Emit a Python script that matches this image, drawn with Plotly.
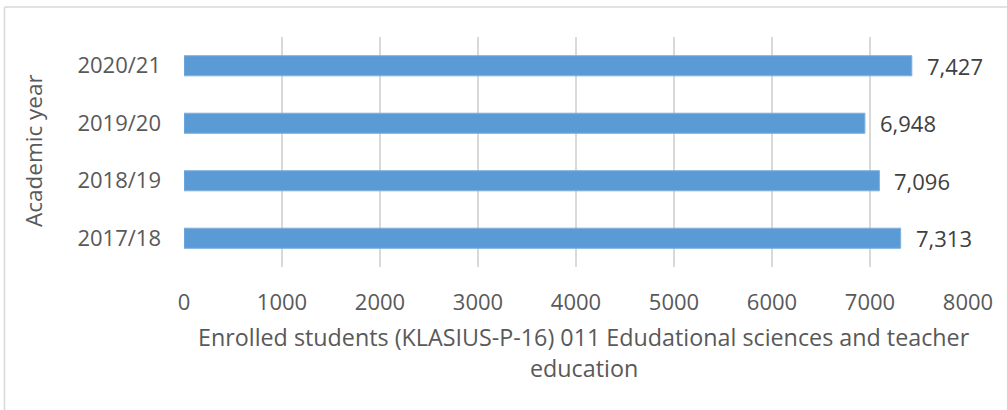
import plotly.graph_objects as go

# Enrolled students by academic year
years = ["2017/18", "2018/19", "2019/20", "2020/21"]
students = [7313, 7096, 6948, 7427]
x_ticks = [0, 1000, 2000, 3000, 4000, 5000, 6000, 7000, 8000]

x_title_lines = ["Enrolled students (KLASIUS-P-16) 011 Edudational sciences and teacher",
                 "education"]
y_title = "Academic year"

FONT = "Open Sans"
SIZE = 22
TEXT = "#595959"
LABEL = "#404040"
BAR = "#5B9BD5"
GRID = "#D9D9D9"

W, H = 1007, 410
L, R, T, B = 184, 39, 37, 143
pw, ph = W - L - R, H - T - B


def px_x(p):
    return (p - L) / pw


def px_y(p):
    return (H - B - p) / ph


fig = go.Figure(
    go.Bar(
        x=students,
        y=years,
        orientation="h",
        marker=dict(color=BAR, line=dict(color="#7FB0DE", width=1)),
        width=0.35,
        hoverinfo="skip",
    )
)

# value labels just right of each bar end
for yr, v in zip(years, students):
    fig.add_annotation(
        x=v, y=yr, xref="x", yref="y",
        text=f"{v:,}", showarrow=False,
        xanchor="left", yanchor="middle", xshift=13,
        font=dict(family=FONT, size=SIZE, color=LABEL),
    )

# axis titles
fig.add_annotation(
    x=px_x(584), y=px_y(337), xref="paper", yref="paper",
    text=x_title_lines[0], showarrow=False, xanchor="center", yanchor="middle",
    font=dict(family=FONT, size=23.3, color=TEXT),
)
fig.add_annotation(
    x=px_x(584), y=px_y(368), xref="paper", yref="paper",
    text=x_title_lines[1], showarrow=False, xanchor="center", yanchor="middle",
    font=dict(family=FONT, size=23.3, color=TEXT),
)
fig.add_annotation(
    x=px_x(33), y=px_y(151), xref="paper", yref="paper",
    text=y_title, showarrow=False, textangle=-90,
    xanchor="center", yanchor="middle",
    font=dict(family=FONT, size=22.5, color=TEXT),
)

# chart frame (top and left edges)
fig.add_shape(type="line", xref="paper", yref="paper",
              x0=px_x(4.5), x1=px_x(1010), y0=px_y(7), y1=px_y(7),
              line=dict(color=GRID, width=1.5))
fig.add_shape(type="line", xref="paper", yref="paper",
              x0=px_x(4.5), x1=px_x(4.5), y0=px_y(7), y1=px_y(415),
              line=dict(color=GRID, width=1.5))

fig.update_layout(
    width=W, height=H,
    margin=dict(l=L, r=R, t=T, b=B, pad=0),
    paper_bgcolor="white", plot_bgcolor="white",
    showlegend=False,
    font=dict(family=FONT, size=SIZE, color=TEXT),
    xaxis=dict(
        range=[0, 8000], tickvals=x_ticks, ticktext=[str(t) for t in x_ticks],
        showgrid=True, gridcolor=GRID, gridwidth=1.5,
        zeroline=False, showline=False, ticks="",
        ticklabelstandoff=20,
        tickfont=dict(family=FONT, size=SIZE, color=TEXT),
    ),
    yaxis=dict(
        categoryorder="array", categoryarray=years,
        range=[-0.5, 3.5],
        showgrid=False, zeroline=False, showline=False, ticks="",
        ticklabelstandoff=22,
        tickfont=dict(family=FONT, size=SIZE, color=TEXT),
    ),
)

fig.write_html("out.html")
